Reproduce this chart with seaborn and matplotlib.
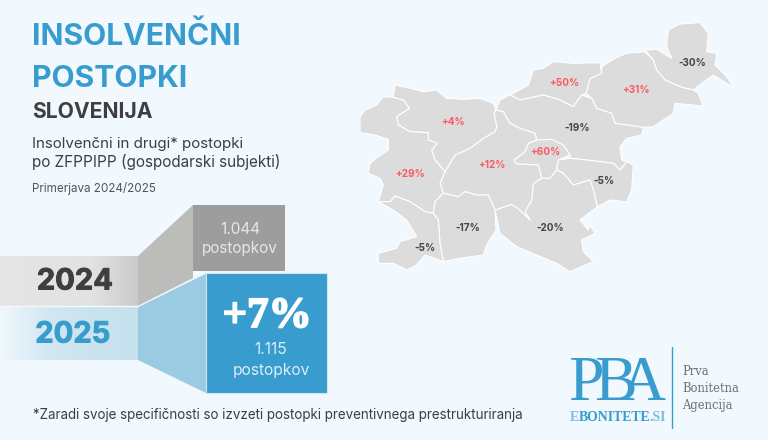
import matplotlib
matplotlib.use("Agg")
import matplotlib.pyplot as plt
import matplotlib.patheffects as pe
import numpy as np
import seaborn as sns
from matplotlib.patches import Polygon, Rectangle

# values
regions = ["Pomurska", "Podravska", "Koroska", "Savinjska", "Zasavska", "Posavska",
           "JV Slovenija", "Osrednjeslovenska", "Gorenjska", "Goriska", "Primorsko-notranjska", "Obalno-kraska"]
changes = [-30, 31, 50, -19, 60, -5, -20, 12, 4, 29, -17, -5]
years = ["2024", "2025"]
totals = ["1.044", "1.115"]
growth = "+7%"

# region outlines, in pixels of the map crop
outlines = {
    "Pomurska": [(855,120),(890,118),(935,145),(920,110),(925,60),(960,42),(1020,38),(1045,70),(1040,125),(1070,130),(1065,165),(1100,200),(1120,232),(1060,195),(1025,220),(1000,240),(965,232),(915,210),(890,180),(880,150)],
    "Podravska": [(725,170),(765,145),(800,130),(855,125),(880,150),(890,180),(915,210),(965,232),(1000,240),(1015,250),(1030,288),(945,280),(940,310),(880,350),(850,352),(765,340),(755,310),(710,295),(695,265),(678,250),(690,205),(725,190)],
    "Koroska": [(460,250),(505,225),(520,180),(550,175),(580,155),(640,160),(720,158),(725,190),(690,205),(678,250),(665,255),(640,290),(600,270),(550,255),(480,270),(450,255)],
    "Savinjska": [(420,270),(450,255),(480,270),(550,255),(600,270),(640,290),(665,255),(695,265),(710,295),(755,310),(765,340),(850,352),(845,375),(800,385),(780,410),(785,450),(800,455),(780,480),(760,460),(680,450),(630,445),(630,435),(610,405),(575,388),(530,390),(525,370),(480,355),(450,340),(430,305),(408,300)],
    "Zasavska": [(530,390),(575,388),(610,405),(630,435),(595,450),(590,480),(570,505),(545,505),(535,465),(470,462),(462,450),(495,425),(505,400)],
    "Posavska": [(595,450),(630,445),(680,450),(760,460),(780,480),(800,455),(820,465),(815,540),(800,575),(750,570),(712,590),(700,540),(690,510),(640,525),(610,490),(590,480)],
    "JV Slovenija": [(545,505),(570,505),(590,480),(610,490),(640,525),(690,510),(700,540),(712,590),(660,630),(685,660),(690,645),(705,670),(665,690),(670,725),(700,755),(630,785),(590,760),(530,735),(470,710),(420,670),(405,600),(455,583),(480,600),(510,630),(495,605),(515,570),(520,520)],
    "Osrednjeslovenska": [(408,300),(430,305),(450,340),(480,355),(525,370),(530,390),(505,400),(495,425),(462,450),(470,462),(535,465),(545,505),(520,520),(515,570),(495,605),(510,630),(480,600),(455,583),(405,600),(385,555),(350,555),(315,545),(295,560),(250,550),(240,520),(255,485),(285,435),(330,415),(370,385),(405,365),(410,350),(402,310)],
    "Gorenjska": [(100,262),(105,225),(150,235),(190,245),(230,240),(260,265),(310,268),(360,265),(400,280),(408,300),(402,310),(410,350),(405,365),(370,385),(330,415),(285,435),(255,485),(225,450),(215,420),(232,400),(205,390),(205,368),(150,365),(115,345),(110,320),(148,295),(130,270)],
    "Goriska": [(100,262),(70,260),(50,285),(15,300),(0,320),(0,368),(45,375),(85,388),(85,420),(55,440),(30,460),(25,490),(60,505),(70,525),(55,575),(90,575),(105,558),(150,575),(195,605),(220,610),(225,575),(250,550),(240,520),(255,485),(225,450),(215,420),(232,400),(205,390),(205,368),(150,365),(115,345),(110,320),(148,295),(130,270)],
    "Primorsko-notranjska": [(225,575),(250,550),(295,560),(315,545),(350,555),(385,555),(405,600),(408,660),(380,705),(370,735),(300,745),(250,755),(240,700),(235,630),(220,610)],
    "Obalno-kraska": [(55,575),(90,575),(105,558),(150,575),(195,605),(220,610),(235,630),(240,700),(250,755),(195,735),(170,765),(140,780),(100,760),(55,760),(55,730),(110,715),(120,695),(170,680),(140,630),(100,600)],
}
label_pos = {
    "Pomurska": (998,158), "Podravska": (827,239), "Koroska": (613,219), "Savinjska": (650,354),
    "Zasavska": (555,425), "Posavska": (732,512), "JV Slovenija": (571,655), "Osrednjeslovenska": (395,464),
    "Gorenjska": (280,336), "Goriska": (150,491), "Primorsko-notranjska": (322,655), "Obalno-kraska": (194,713),
}

BG = "#f1f8fe"
BLUE = "#389dce"
DARK = "#3f3f3f"
GREY = "#555555"
FONT = "Inter"
SERIF = "Liberation Serif"


def heavy(color, width):
    return [pe.withStroke(linewidth=width, foreground=color)]


sns.set_theme(style="white")
plt.rcParams["font.family"] = [FONT, "DejaVu Sans"]

fig = plt.figure(figsize=(7.68, 4.4), dpi=100, facecolor=BG)
ax = fig.add_axes([0, 0, 1, 1])
ax.axis("off")

# header
ax.text(32, 45, "INSOLVENČNI", fontsize=21.7, fontweight="bold", color=BLUE)
ax.text(32, 87, "POSTOPKI", fontsize=21.7, fontweight="bold", color=BLUE)
ax.text(32, 118, "SLOVENIJA", fontsize=15.2, fontweight="bold", color=DARK)
ax.text(32, 148, "Insolvenčni in drugi* postopki", fontsize=10.9, color=DARK)
ax.text(32, 167, "po ZFPPIPP (gospodarski subjekti)", fontsize=11, color=DARK)
ax.text(32, 192, "Primerjava 2024/2025", fontsize=8.4, color=GREY)

# gradient bands with the year labels
grey_band = sns.blend_palette(["#e6e6e6", "#e4e4e4", "#e2e2e2", "#cbcbcb"], as_cmap=True)
blue_band = sns.blend_palette([BG, "#d2e8f2", "#c9e3ef", "#c6e1ee"], as_cmap=True)
ramp = np.linspace(0, 1, 256).reshape(1, -1)
ax.imshow(ramp, cmap=grey_band, extent=(0, 138, 306, 256), aspect="auto", zorder=1)
ax.imshow(ramp, cmap=blue_band, extent=(0, 138, 360, 307), aspect="auto", zorder=1)
ax.set_xlim(0, 768)
ax.set_ylim(440, 0)

ax.add_patch(Polygon([(138, 256), (193, 205), (193, 278), (138, 306)], color="#bcbcba", lw=0, zorder=2))
ax.add_patch(Rectangle((193, 205), 92, 66, color="#9d9d9d", lw=0, zorder=3))
ax.add_patch(Polygon([(138, 307), (206, 273), (206, 393), (138, 360)], color="#9bcbe3", lw=0, zorder=2))
ax.add_patch(Rectangle((206, 273), 121, 120, facecolor=BLUE, edgecolor="#cfe6f2", lw=0.8, zorder=4))
ax.plot([138, 206], [306.5, 273], color="#e8f3f9", lw=1, zorder=3)
ax.plot([0, 138], [306.5, 306.5], color="#f4f9fc", lw=1, zorder=3)

ax.text(75, 282, years[0], fontsize=21, fontweight="bold", color=DARK, ha="center", va="center", zorder=5,
        path_effects=heavy(DARK, 0.7))
ax.text(73, 335, years[1], fontsize=21, fontweight="bold", color=BLUE, ha="center", va="center", zorder=5,
        path_effects=heavy(BLUE, 0.7))

ax.text(240, 229, totals[0], fontsize=11, color="#e6e6e6", ha="center", va="center", zorder=5)
ax.text(240, 249, "postopkov", fontsize=11, color="#e6e6e6", ha="center", va="center", zorder=5)
ax.text(267, 317, growth, fontsize=31, fontweight="bold", family=SERIF, color="white", ha="center", va="center", zorder=5,
        path_effects=heavy("white", 1.3))
ax.text(271, 349, totals[1], fontsize=11.2, color="#dcedf6", ha="center", va="center", zorder=5)
ax.text(271, 370, "postopkov", fontsize=11.2, color="#dcedf6", ha="center", va="center", zorder=5)

ax.text(33, 419, "*Zaradi svoje specifičnosti so izvzeti postopki preventivnega prestrukturiranja",
        fontsize=9.65, color=DARK)

# map, drawn in the pixel grid of the crop
map_ax = fig.add_axes([360 / 768, 1 - 280 / 440, 400 / 768, 270 / 440])
map_ax.set_xlim(0, 1200)
map_ax.set_ylim(810, 0)
map_ax.axis("off")
map_ax.patch.set_alpha(0)
sign_palette = {True: "#fb5b5f", False: "#454545"}
for name in regions:
    map_ax.add_patch(Polygon(outlines[name], closed=True, facecolor="#dcdcdc", edgecolor="white", lw=0.8, joinstyle="round"))
for name, change in zip(regions, changes):
    x, y = label_pos[name]
    map_ax.text(x, y, f"{change:+d}%", fontsize=7.2, fontweight="bold", color=sign_palette[change > 0],
                ha="center", va="center")

# logo
for letter, x in zip("PBA", [568, 594, 619]):
    ax.text(x, 400, letter, fontsize=46, family=SERIF, color=BLUE, va="baseline")
ax.text(570, 421, "E", fontsize=9.9, family=SERIF, fontweight="bold", color="#7cbde0")
ax.text(578.5, 421, "BONITETE", fontsize=9.9, family=SERIF, fontweight="bold", color=BLUE)
ax.text(649, 421, ".SI", fontsize=9.9, family=SERIF, fontweight="bold", color="#7cbde0")
ax.plot([672, 672], [347, 428], color=BLUE, lw=1)
for y, word in zip([375, 392, 409], ["Prva", "Bonitetna", "Agencija"]):
    ax.text(682, y, word, fontsize=8.3, family="DejaVu Serif", color="#707070")

fig.savefig("out.png", dpi=100, facecolor=BG)
